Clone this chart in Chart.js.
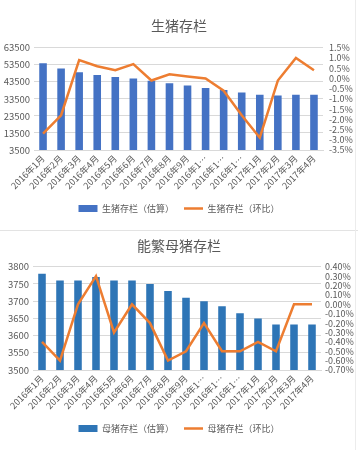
<!DOCTYPE html>
<html>
<head>
<meta charset="utf-8">
<script src="https://cdn.jsdelivr.net/npm/chart.js@4.4.1/dist/chart.umd.min.js"></script>
<style>
  html, body { margin: 0; padding: 0; background: #ffffff; }
  body { width: 358px; height: 450px; position: relative; overflow: hidden; }
  #c1 { position: absolute; left: 0; top: 0; }
  #c2 { position: absolute; left: 0; top: 231px; }
  .sep { position: absolute; left: 0; top: 230px; width: 358px; height: 1px; background: #e3e3e3; }
  .rb { position: absolute; left: 355px; top: 0; width: 1px; height: 450px; background: #ececec; }
</style>
</head>
<body>
<canvas id="c1" width="358" height="229"></canvas>
<div class="sep"></div>
<canvas id="c2" width="358" height="219"></canvas>
<div class="rb"></div>
<script>
// ---- data ----
const categories = ['2016年1月','2016年2月','2016年3月','2016年4月','2016年5月','2016年6月','2016年7月','2016年8月','2016年9月','2016年10月','2016年11月','2016年12月','2017年1月','2017年2月','2017年3月','2017年4月'];

const hogTitle = '生猪存栏';
const hogBarLabel = '生猪存栏（估算）';
const hogLineLabel = '生猪存栏（环比）';
const hogStock = [54500, 51300, 49100, 47500, 46300, 45500, 44100, 42700, 41300, 39900, 38700, 37300, 36000, 35500, 36000, 36000];
const hogMoM = [-2.7, -1.8, 0.9, 0.6, 0.4, 0.7, -0.1, 0.2, 0.1, 0.0, -0.6, -1.8, -2.9, -0.1, 1.0, 0.4];
const hogLeftTicks = [3500, 13500, 23500, 33500, 43500, 53500, 63500];
const hogRightTicks = [-3.5, -3.0, -2.5, -2.0, -1.5, -1.0, -0.5, 0.0, 0.5, 1.0, 1.5];

const sowTitle = '能繁母猪存栏';
const sowBarLabel = '母猪存栏（估算）';
const sowLineLabel = '母猪存栏（环比）';
const sowStock = [3780, 3760, 3760, 3770, 3760, 3760, 3750, 3730, 3710, 3700, 3685, 3665, 3650, 3632, 3632, 3632];
const sowMoM = [-0.4, -0.6, 0.0, 0.3, -0.3, 0.0, -0.2, -0.6, -0.5, -0.2, -0.5, -0.5, -0.4, -0.5, 0.0, 0.0];
const sowLeftTicks = [3500, 3550, 3600, 3650, 3700, 3750, 3800];
const sowRightTicks = [-0.7, -0.6, -0.5, -0.4, -0.3, -0.2, -0.1, 0.0, 0.1, 0.2, 0.3, 0.4];

// ---- styling ----
const FONT = '"Noto Sans CJK SC", "Noto Sans", sans-serif';
const TXT = '#595959';
const GRID = '#d9d9d9';
const ORANGE = '#ed7d31';

function truncLabel(s) {
  return s.length > 7 ? s.slice(0, 6) + '…' : s;
}

function buildChart(canvasId, cfg) {
  const leftTicks = cfg.leftTicks, rightTicks = cfg.rightTicks;
  return new Chart(document.getElementById(canvasId), {
    type: 'bar',
    data: {
      labels: categories,
      datasets: [
        {
          type: 'line',
          label: cfg.lineLabel,
          data: cfg.lineData,
          yAxisID: 'y1',
          borderColor: ORANGE,
          backgroundColor: ORANGE,
          borderWidth: 2.5,
          pointRadius: 0,
          pointHoverRadius: 0,
          pointStyle: 'line',
          tension: 0,
          order: 0
        },
        {
          type: 'bar',
          label: cfg.barLabel,
          data: cfg.barData,
          yAxisID: 'y',
          backgroundColor: cfg.barColor,
          borderWidth: 0,
          pointStyle: 'rect',
          categoryPercentage: 1.0,
          barPercentage: 0.42,
          order: 1
        }
      ]
    },
    options: {
      responsive: false,
      animation: false,
      devicePixelRatio: 1,
      layout: { padding: { top: cfg.padTop, bottom: cfg.padBottom, left: 0, right: 0 } },
      plugins: {
        title: {
          display: true,
          text: cfg.title,
          color: TXT,
          font: { family: FONT, size: 14, weight: 'normal' },
          padding: { top: cfg.titlePadTop, bottom: cfg.titlePadBottom }
        },
        legend: {
          display: true,
          position: 'bottom',
          reverse: true,
          labels: {
            color: TXT,
            font: { family: FONT, size: 9 },
            usePointStyle: true,
            pointStyleWidth: 19,
            boxHeight: 7,
            padding: 10
          }
        },
        tooltip: { enabled: false }
      },
      scales: {
        x: {
          offset: true,
          grid: { display: false, drawTicks: false },
          border: { display: true, color: GRID },
          ticks: {
            color: TXT,
            font: { family: FONT, size: 9 },
            maxRotation: 45,
            minRotation: 45,
            autoSkip: false,
            padding: 3,
            callback: function (v) { return truncLabel(categories[v]); }
          },
          afterFit: function (s) { s.height = cfg.xHeight; }
        },
        y: {
          position: 'left',
          min: leftTicks[0],
          max: leftTicks[leftTicks.length - 1],
          afterBuildTicks: function (s) { s.ticks = leftTicks.map(v => ({ value: v })); },
          grid: { color: GRID, lineWidth: 1, drawTicks: false },
          border: { display: false },
          ticks: {
            color: TXT,
            font: { family: FONT, size: 9.5 },
            padding: 4,
            autoSkip: false,
            callback: function (v) { return String(v); }
          },
          afterFit: function (s) { s.width = cfg.leftW; }
        },
        y1: {
          position: 'right',
          min: rightTicks[0],
          max: rightTicks[rightTicks.length - 1],
          afterBuildTicks: function (s) { s.ticks = rightTicks.map(v => ({ value: v })); },
          grid: { drawOnChartArea: false, drawTicks: false },
          border: { display: false },
          ticks: {
            color: TXT,
            font: { family: FONT, size: 9 },
            padding: cfg.rightPad,
            autoSkip: false,
            callback: function (v) { return (Math.round(v * 100) / 100).toFixed(cfg.dec) + '%'; }
          },
          afterFit: function (s) { s.width = cfg.rightW; }
        }
      }
    }
  });
}

buildChart('c1', {
  title: hogTitle, barLabel: hogBarLabel, lineLabel: hogLineLabel,
  barData: hogStock, lineData: hogMoM,
  leftTicks: hogLeftTicks, rightTicks: hogRightTicks,
  barColor: '#4472c4', dec: 1,
  padTop: 6, titlePadTop: 11, titlePadBottom: 14,
  xHeight: 44, padBottom: 6,
  leftW: 34, rightW: 35, rightPad: 6
});

buildChart('c2', {
  title: sowTitle, barLabel: sowBarLabel, lineLabel: sowLineLabel,
  barData: sowStock, lineData: sowMoM,
  leftTicks: sowLeftTicks, rightTicks: sowRightTicks,
  barColor: '#2e75b6', dec: 2,
  padTop: 0, titlePadTop: 6, titlePadBottom: 13,
  xHeight: 44, padBottom: 7,
  leftW: 33, rightW: 37, rightPad: 4
});
</script>
</body>
</html>
